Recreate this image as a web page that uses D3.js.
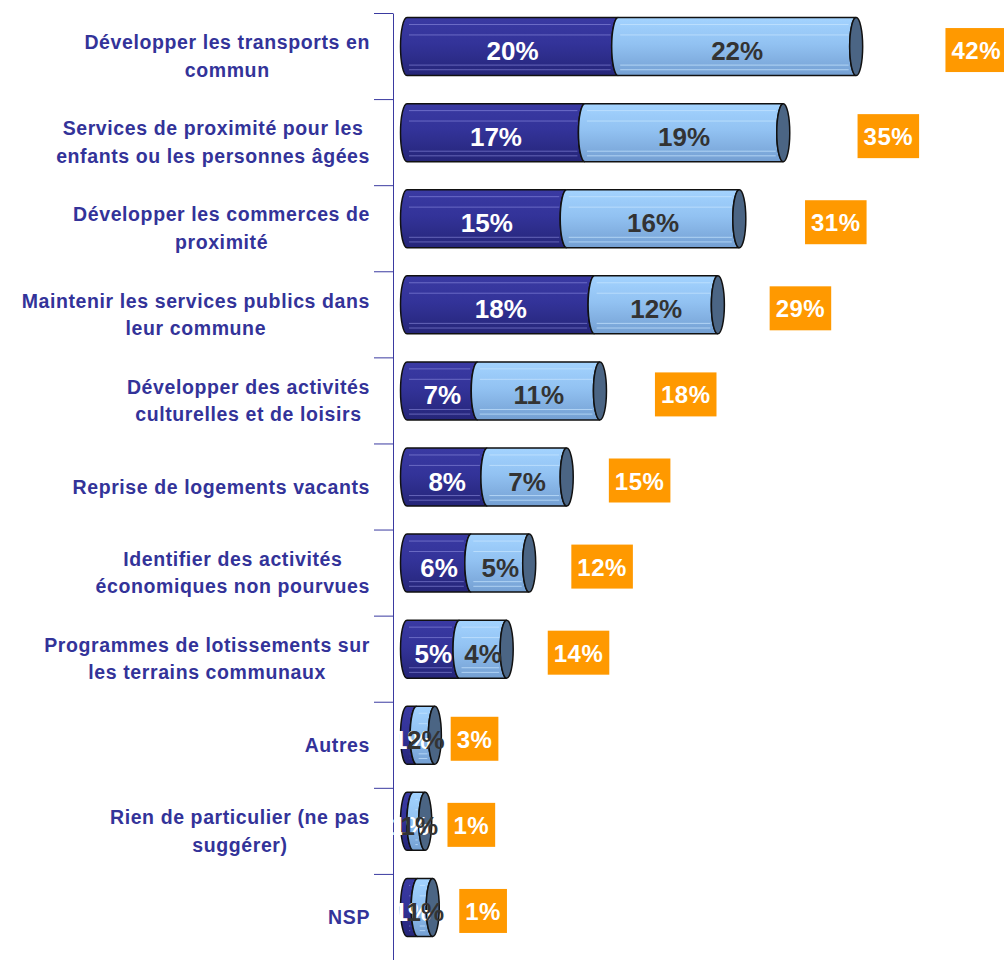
<!DOCTYPE html>
<html>
<head>
<meta charset="utf-8">
<script src="https://cdn.jsdelivr.net/npm/d3@7"></script>
<style>
  body { margin: 0; background: #fff; }
  svg { display: block; font-family: "Liberation Sans", Arial, sans-serif; }
</style>
</head>
<body>
<svg width="1004" height="960"></svg>
<script>
// Category labels (one array per row, one entry per line)
var categories = [
    ["Développer les transports en", "commun"],
    ["Services de proximité pour les", "enfants ou les personnes âgées"],
    ["Développer les commerces de", "proximité"],
    ["Maintenir les services publics dans", "leur commune"],
    ["Développer des activités", "culturelles et de loisirs"],
    ["Reprise de logements vacants"],
    ["Identifier des activités", "économiques non pourvues"],
    ["Programmes de lotissements sur", "les terrains communaux"],
    ["Autres"],
    ["Rien de particulier (ne pas", "suggérer)"],
    ["NSP"]
];

// first series (dark) and second series (light), in %
var firstChoice  = [19.7, 16.6, 14.9, 17.5, 6.6, 7.5, 6.0, 4.9, 0.9, 0.6, 1.0];
var otherChoices = [22.2, 18.5, 16.1, 11.5, 11.4, 7.4, 5.4, 4.4, 1.7, 1.1, 1.4];
// total labels shown in orange boxes
var totals = [42, 35, 31, 29, 18, 15, 12, 14, 3, 1, 1];
// invisible third series that carries the total labels
var hiddenSeries = [22.4, 19.6, 18, 15.4, 16, 13.6, 13.6, 13.4, 7.4, 8.6, 9.4];

var svg = d3.select('svg');
var defs = svg.append('defs');

function addGrad(id, stops) {
    var g = defs.append('linearGradient').attr('id', id)
        .attr('x1', 0).attr('y1', 0).attr('x2', 0).attr('y2', 1);
    stops.forEach(function(s) {
        g.append('stop').attr('offset', s[0]).attr('stop-color', s[1]);
    });
}
addGrad('gDark', [[0, '#3a3aa3'], [0.45, '#333399'], [1, '#252578']]);
addGrad('gLight', [[0, '#a3d3ff'], [0.45, '#92c2f2'], [1, '#749fd2']]);

var axisX = 393;
var xScale = d3.scaleLinear().domain([0, 50]).range([407, 943]);
var yScale = d3.scaleBand().domain(d3.range(categories.length)).range([13, 960]);
var yEdge = d3.scaleLinear().domain([0, categories.length]).range([13, 960]);

var barH = 58, rx = 6.5, barShift = -9.5;

// axis with ticks between categories
var yAx = svg.append('g')
    .attr('transform', 'translate(' + [axisX, 0] + ')')
    .call(d3.axisLeft(yEdge).tickValues(d3.range(categories.length + 1))
        .tickSize(19).tickSizeOuter(0).tickFormat(''));
yAx.selectAll('path, line').attr('stroke', '#3a3aa0').attr('stroke-width', 1);

// category labels: lines centred as a block, block right-aligned
categories.forEach(function(lines, i) {
    var cy = yScale(i) + yScale.bandwidth() / 2;
    var g = svg.append('g');
    var texts = lines.map(function(l, k) {
        return g.append('text').text(l)
            .attr('y', cy + (k - (lines.length - 1) / 2) * 27.5 + 7)
            .attr('font-size', 19.5).attr('font-weight', 'bold')
            .attr('letter-spacing', 0.6)
            .attr('fill', '#333399').attr('text-anchor', 'middle');
    });
    var maxW = d3.max(texts, function(t) { return t.node().getComputedTextLength(); });
    texts.forEach(function(t) { t.attr('x', 370 - maxW / 2); });
});

function segPath(x0, x1, yc) {
    var t = yc - barH / 2, b = yc + barH / 2, ry = barH / 2;
    return 'M' + x0 + ',' + t + 'L' + x1 + ',' + t +
        'A' + rx + ',' + ry + ' 0 0 0 ' + x1 + ',' + b +
        'L' + x0 + ',' + b +
        'A' + rx + ',' + ry + ' 0 0 1 ' + x0 + ',' + t + 'Z';
}

var stripeOffsets = [0.12, 0.3, 0.82, 0.9];

function drawSeg(x0, x1, yc, fill, stripe) {
    svg.append('path').attr('d', segPath(x0, x1, yc))
        .attr('fill', 'url(#' + fill + ')');
    stripeOffsets.forEach(function(o) {
        var sx0 = x0 + 2, sx1 = x1 - rx - 1;
        if (sx1 > sx0) {
            svg.append('line')
                .attr('x1', sx0).attr('x2', sx1)
                .attr('y1', yc - barH / 2 + o * barH).attr('y2', yc - barH / 2 + o * barH)
                .attr('stroke', stripe).attr('stroke-width', 1);
        }
    });
    svg.append('path').attr('d', segPath(x0, x1, yc))
        .attr('fill', 'none').attr('stroke', '#111').attr('stroke-width', 1.5);
}

var labels = [];
categories.forEach(function(c, i) {
    var yc = yScale(i) + yScale.bandwidth() / 2 + barShift;
    var x0 = xScale(0), x1 = xScale(firstChoice[i]), x2 = xScale(firstChoice[i] + otherChoices[i]);
    drawSeg(x0, x1, yc, 'gDark', 'rgba(150,150,230,0.55)');
    drawSeg(x1, x2, yc, 'gLight', 'rgba(200,230,255,0.7)');
    svg.append('ellipse').attr('cx', x2).attr('cy', yc)
        .attr('rx', rx).attr('ry', barH / 2)
        .attr('fill', '#4b6584').attr('stroke', '#111').attr('stroke-width', 1.5);
    labels.push({x: (x0 + x1) / 2, y: yc, v: firstChoice[i], color: '#fff'});
    labels.push({x: (x1 + x2) / 2, y: yc, v: otherChoices[i], color: '#333'});
});

labels.forEach(function(l) {
    svg.append('text').text(Math.round(l.v) + '%')
        .attr('x', l.x).attr('y', l.y + 13.5)
        .attr('text-anchor', 'middle').attr('font-size', 26)
        .attr('font-weight', 'bold').attr('fill', l.color);
});

// total boxes
totals.forEach(function(t, i) {
    var cx = xScale(firstChoice[i] + otherChoices[i] + hiddenSeries[i] / 2);
    var cy = yScale(i) + yScale.bandwidth() / 2 - 6;
    var txt = svg.append('text').text(t + '%')
        .attr('x', cx).attr('y', cy + 9)
        .attr('text-anchor', 'middle').attr('font-size', 24)
        .attr('letter-spacing', 0.5)
        .attr('font-weight', 'bold').attr('fill', '#fff');
    var w = txt.node().getComputedTextLength() + 12;
    svg.insert('rect', function() { return txt.node(); })
        .attr('x', cx - w / 2).attr('y', cy - 22)
        .attr('width', w).attr('height', 44)
        .attr('fill', '#ff9900');
});
</script>
</body>
</html>
